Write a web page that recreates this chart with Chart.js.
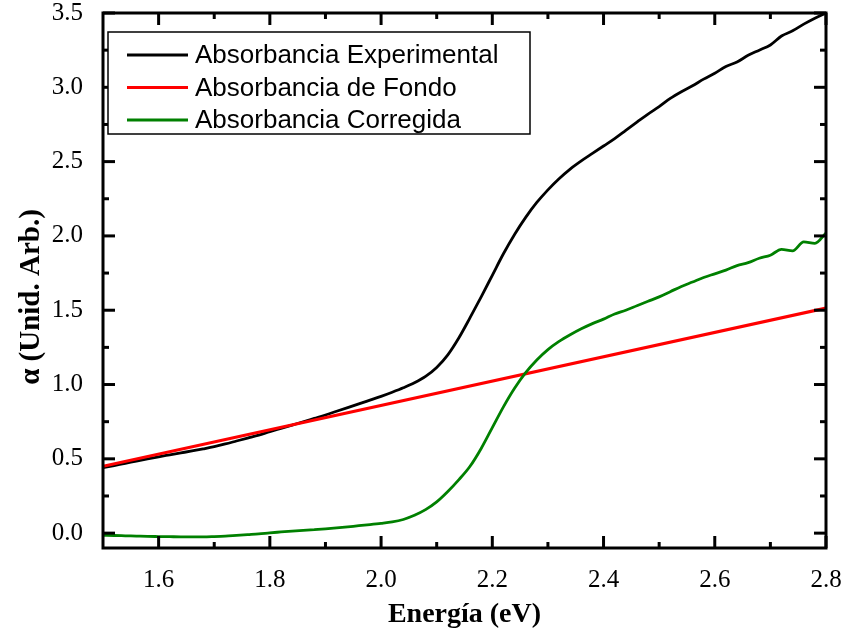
<!DOCTYPE html>
<html>
<head>
<meta charset="utf-8">
<script src="https://cdn.jsdelivr.net/npm/chart.js@4.4.0/dist/chart.umd.min.js"></script>
<style>
  html, body { margin: 0; padding: 0; background: #fff; }
  canvas { display: block; }
</style>
</head>
<body>
<canvas id="chart" width="845" height="644"></canvas>
<script>
// Energy (eV) sample points
const energy = [
  1.50, 1.52, 1.54, 1.56, 1.58, 1.60, 1.62, 1.64, 1.66, 1.68,
  1.70, 1.72, 1.74, 1.76, 1.78, 1.80, 1.82, 1.84, 1.86, 1.88,
  1.90, 1.92, 1.94, 1.96, 1.98, 2.00, 2.02, 2.04, 2.06, 2.08,
  2.10, 2.12, 2.14, 2.16, 2.18, 2.20, 2.22, 2.24, 2.26, 2.28,
  2.30, 2.32, 2.34, 2.36, 2.38, 2.40, 2.42, 2.44, 2.46, 2.48,
  2.50, 2.52, 2.54, 2.56, 2.58, 2.60, 2.62, 2.64, 2.66, 2.68,
  2.70, 2.72, 2.74, 2.76, 2.78, 2.80
];

const experimental = [
  0.440, 0.455, 0.470, 0.485, 0.500, 0.514, 0.527, 0.540, 0.553, 0.567,
  0.582, 0.600, 0.620, 0.640, 0.660, 0.683, 0.705, 0.727, 0.749, 0.772,
  0.795, 0.820, 0.845, 0.870, 0.895, 0.920, 0.948, 0.978, 1.012, 1.055,
  1.115, 1.200, 1.315, 1.450, 1.590, 1.735, 1.880, 2.010, 2.125, 2.225,
  2.310, 2.385, 2.450, 2.505, 2.555, 2.605, 2.655, 2.710, 2.765, 2.820,
  2.870, 2.925, 2.970, 3.010, 3.055, 3.095, 3.140, 3.170, 3.215, 3.250,
  3.285, 3.345, 3.380, 3.425, 3.465, 3.500
];

const backgroundE = [1.50, 2.80];
const background = [0.450, 1.515];

const corrected = [
  -0.015, -0.016, -0.018, -0.020, -0.022, -0.023, -0.024, -0.025, -0.025, -0.025,
  -0.023, -0.020, -0.015, -0.010, -0.005, 0.002, 0.008, 0.014, 0.019, 0.024,
  0.029, 0.035, 0.042, 0.050, 0.057, 0.065, 0.075, 0.092, 0.120, 0.158,
  0.210, 0.280, 0.360, 0.450, 0.570, 0.710, 0.850, 0.975, 1.080, 1.165,
  1.235, 1.290, 1.335, 1.375, 1.410, 1.440, 1.475, 1.500, 1.530, 1.560,
  1.590, 1.625, 1.660, 1.690, 1.720, 1.745, 1.770, 1.800, 1.820, 1.850,
  1.870, 1.910, 1.900, 1.960, 1.950, 2.020
];

const seriesLabels = ['Absorbancia Experimental', 'Absorbancia de Fondo', 'Absorbancia Corregida'];
const xTicks = [1.6, 1.8, 2.0, 2.2, 2.4, 2.6, 2.8];
const xMinor = [1.7, 1.9, 2.1, 2.3, 2.5, 2.7];
const yTicks = [0.0, 0.5, 1.0, 1.5, 2.0, 2.5, 3.0, 3.5];
const yMinor = [0.25, 0.75, 1.25, 1.75, 2.25, 2.75, 3.25];

const SERIF = '"Liberation Serif", "Times New Roman", serif';
const SANS = '"Liberation Sans", Arial, sans-serif';

const toPoints = (xs, ys) => xs.map((x, i) => ({ x: x, y: ys[i] }));

// frame, inward ticks on all four sides, legend box and axis titles
const decorations = {
  id: 'decorations',
  afterDraw(chart) {
    const ctx = chart.ctx;
    const a = chart.chartArea;
    const xs = chart.scales.x;
    const ys = chart.scales.y;

    ctx.save();
    ctx.strokeStyle = '#000';
    ctx.lineWidth = 3;
    ctx.lineCap = 'butt';

    const tick = (x1, y1, x2, y2) => {
      ctx.beginPath();
      ctx.moveTo(x1, y1);
      ctx.lineTo(x2, y2);
      ctx.stroke();
    };
    xTicks.forEach(v => {
      const p = xs.getPixelForValue(v);
      tick(p, a.bottom, p, a.bottom - 12);
      tick(p, a.top, p, a.top + 12);
    });
    xMinor.forEach(v => {
      const p = xs.getPixelForValue(v);
      tick(p, a.bottom, p, a.bottom - 6);
      tick(p, a.top, p, a.top + 6);
    });
    yTicks.forEach(v => {
      const p = ys.getPixelForValue(v);
      tick(a.left, p, a.left + 12, p);
      tick(a.right, p, a.right - 12, p);
    });
    yMinor.forEach(v => {
      const p = ys.getPixelForValue(v);
      tick(a.left, p, a.left + 6, p);
      tick(a.right, p, a.right - 6, p);
    });
    ctx.strokeRect(a.left, a.top, a.right - a.left, a.bottom - a.top);

    // legend
    const lx = 108, ly = 32, lw = 422, lh = 102;
    ctx.fillStyle = '#fff';
    ctx.fillRect(lx, ly, lw, lh);
    ctx.lineWidth = 1.5;
    ctx.strokeRect(lx, ly, lw, lh);
    ctx.font = '26px ' + SANS;
    ctx.textBaseline = 'middle';
    ctx.textAlign = 'left';
    chart.data.datasets.forEach((ds, i) => {
      const y = 55 + i * 32.5;
      ctx.strokeStyle = ds.borderColor;
      ctx.lineWidth = 3;
      tick(127, y, 188, y);
      ctx.fillStyle = '#000';
      ctx.fillText(ds.label, 195, y + 1);
    });

    // axis titles
    ctx.fillStyle = '#000';
    ctx.font = 'bold 28px ' + SERIF;
    ctx.textAlign = 'center';
    ctx.textBaseline = 'alphabetic';
    ctx.fillText('Energía (eV)', (a.left + a.right) / 2, 622);

    ctx.save();
    ctx.font = 'bold 29px ' + SERIF;
    ctx.translate(39, 297);
    ctx.rotate(-Math.PI / 2);
    ctx.fillText('α (Unid. Arb.)', 0, 0);
    ctx.restore();

    ctx.restore();
  }
};

new Chart(document.getElementById('chart'), {
  type: 'line',
  data: {
    datasets: [
      {
        label: seriesLabels[0],
        data: toPoints(energy, experimental),
        borderColor: '#000000',
        borderWidth: 2.8,
        order: 2
      },
      {
        label: seriesLabels[1],
        data: toPoints(backgroundE, background),
        borderColor: '#ff0000',
        borderWidth: 3.2,
        order: 1
      },
      {
        label: seriesLabels[2],
        data: toPoints(energy, corrected),
        borderColor: '#008000',
        borderWidth: 2.8,
        order: 0
      }
    ]
  },
  options: {
    responsive: false,
    animation: false,
    devicePixelRatio: 1,
    parsing: false,
    elements: {
      point: { radius: 0 },
      line: { cubicInterpolationMode: 'monotone' }
    },
    layout: { padding: { top: 13, right: 19, left: 0, bottom: 0 } },
    plugins: {
      legend: { display: false },
      tooltip: { enabled: false }
    },
    scales: {
      x: {
        type: 'linear',
        min: 1.5,
        max: 2.8,
        grid: { display: false },
        border: { display: false },
        afterBuildTicks: s => { s.ticks = xTicks.map(v => ({ value: v })); },
        afterFit: s => { s.height = 96; s.paddingLeft = 0; s.paddingRight = 0; },
        ticks: {
          color: '#000',
          padding: 9,
          maxRotation: 0,
          autoSkip: false,
          font: { family: SERIF, size: 25 },
          callback: v => v.toFixed(1)
        }
      },
      y: {
        type: 'linear',
        min: -0.1,
        max: 3.5,
        grid: { display: false },
        border: { display: false },
        afterBuildTicks: s => { s.ticks = yTicks.map(v => ({ value: v })); },
        afterFit: s => { s.width = 103; s.paddingTop = 0; s.paddingBottom = 0; },
        ticks: {
          color: '#000',
          padding: 12,
          autoSkip: false,
          font: { family: SERIF, size: 25 },
          callback: v => v.toFixed(1)
        }
      }
    }
  },
  plugins: [decorations]
});
</script>
</body>
</html>
